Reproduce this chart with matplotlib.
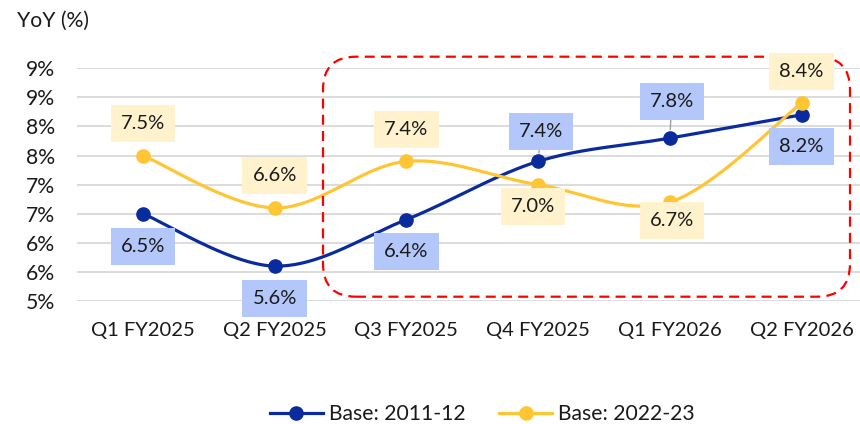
import numpy as np
import matplotlib
matplotlib.use("Agg")
import matplotlib.pyplot as plt
from matplotlib.patches import FancyBboxPatch
from matplotlib.lines import Line2D
from matplotlib.transforms import IdentityTransform

# ---------------- data ----------------
categories = ["Q1 FY2025", "Q2 FY2025", "Q3 FY2025", "Q4 FY2025", "Q1 FY2026", "Q2 FY2026"]
base_2011_12 = [6.5, 5.6, 6.4, 7.4, 7.8, 8.2]
base_2022_23 = [7.5, 6.6, 7.4, 7.0, 6.7, 8.4]
series_names = ["Base: 2011-12", "Base: 2022-23"]
y_ticks = [5.0, 5.5, 6.0, 6.5, 7.0, 7.5, 8.0, 8.5, 9.0]
y_tick_labels = ["5%", "6%", "6%", "7%", "7%", "8%", "8%", "9%", "9%"]
y_title = "YoY (%)"

# ---------------- layout / style ----------------
W, H, DPI = 860, 424, 100
BLUE = "#0A2B9E"
YELLOW = "#FFC533"
BLUE_BG = "#B4C7FA"
YELLOW_BG = "#FFF2CC"
TXT = "#1A1A1A"
FS = 14.5
FS_BIG = 15.2

# label offsets in pixels (dx, dy)
blue_offsets = [(0, -33), (0, -32), (0, -32), (3, 30), (2, 37), (0, -32)]
yellow_offsets = [(0, 32), (0, 32), (0, 32), (-5, -22), (2, -18), (0, 32)]
blue_leader = [False, False, False, True, True, False]

plt.rcParams["font.family"] = ["Lato", "DejaVu Sans"]


def smooth(x, y, n=40):
    P = np.column_stack([x, y]).astype(float)
    Pe = np.vstack([P[0], P, P[-1]])
    out = []
    t = np.linspace(0, 1, n)[:, None]
    for i in range(len(P) - 1):
        p0, p1, p2, p3 = Pe[i], Pe[i + 1], Pe[i + 2], Pe[i + 3]
        c1 = p1 + (p2 - p0) / 6.0
        c2 = p2 - (p3 - p1) / 6.0
        seg = (1 - t) ** 3 * p1 + 3 * (1 - t) ** 2 * t * c1 + 3 * (1 - t) * t ** 2 * c2 + t ** 3 * p2
        out.append(seg if i == 0 else seg[1:])
    return np.vstack(out)


fig = plt.figure(figsize=(W / DPI, H / DPI), dpi=DPI)
ax_left, ax_right = 77, 860
ax_top, ax_bot = 68.3, 301
ax = fig.add_axes([ax_left / W, 1 - ax_bot / H, (ax_right - ax_left) / W, (ax_bot - ax_top) / H])

x = np.arange(len(categories))

for vals, col in [(base_2011_12, BLUE), (base_2022_23, YELLOW)]:
    c = smooth(x, vals)
    ax.plot(c[:, 0], c[:, 1], color=col, lw=2.3, zorder=3, solid_capstyle="round")
    ax.plot(x, vals, ls="none", marker="o", ms=9.5, color=col, zorder=3.5)

# data labels
for i, v in enumerate(base_2011_12):
    kw = {}
    if blue_leader[i]:
        kw["arrowprops"] = dict(arrowstyle="-", color="#A0A0A0", lw=1.0, shrinkA=0, shrinkB=6)
    ax.annotate(f"{v:.1f}%", xy=(x[i], v), xytext=blue_offsets[i], textcoords="offset pixels",
                ha="center", va="center", fontsize=FS, color=TXT, zorder=6,
                bbox=dict(boxstyle="square,pad=0.5", fc=BLUE_BG, ec="none"), **kw)
for i, v in enumerate(base_2022_23):
    ax.annotate(f"{v:.1f}%", xy=(x[i], v), xytext=yellow_offsets[i], textcoords="offset pixels",
                ha="center", va="center", fontsize=FS, color=TXT, zorder=6,
                bbox=dict(boxstyle="square,pad=0.5", fc=YELLOW_BG, ec="none"))

# red dashed rounded highlight
rect = FancyBboxPatch((323, H - 296.7), 527, 240, boxstyle="round,pad=0,rounding_size=33",
                      transform=IdentityTransform(), fill=False, ec="#FF0000", lw=1.6,
                      ls=(0, (4.5, 2.8)), zorder=4, clip_on=False)
ax.add_patch(rect)

# axes styling
ax.set_xticks(x)
ax.set_xticklabels(categories, fontsize=FS, color=TXT)
ax.set_yticks(y_ticks)
ax.set_yticklabels(y_tick_labels, fontsize=FS_BIG, color=TXT)
ax.set_ylim(y_ticks[0], y_ticks[-1])
spacing = 131.7
ax.set_xlim(-(143 - ax_left) / spacing, (ax_right - 143) / spacing)
ax.yaxis.grid(True, color="#D9D9D9", lw=1.3)
ax.set_axisbelow(True)
for s in ax.spines.values():
    s.set_visible(False)
ax.tick_params(axis="both", length=0)
ax.tick_params(axis="y", pad=16)
ax.tick_params(axis="x", pad=15)

fig.text(17 / W, 1 - 21 / H, y_title, fontsize=FS_BIG, color=TXT, ha="left", va="center")

handles = [Line2D([0], [0], color=BLUE, lw=2.3, marker="o", ms=9.5),
           Line2D([0], [0], color=YELLOW, lw=2.3, marker="o", ms=9.5)]
fig.legend(handles, series_names, loc="center", bbox_to_anchor=(482.5 / W, 1 - 414 / H),
           ncol=2, frameon=False, fontsize=FS_BIG, handlelength=2.5, handletextpad=0.3,
           columnspacing=1.6, labelcolor=TXT)

fig.savefig("out.png", dpi=DPI)
